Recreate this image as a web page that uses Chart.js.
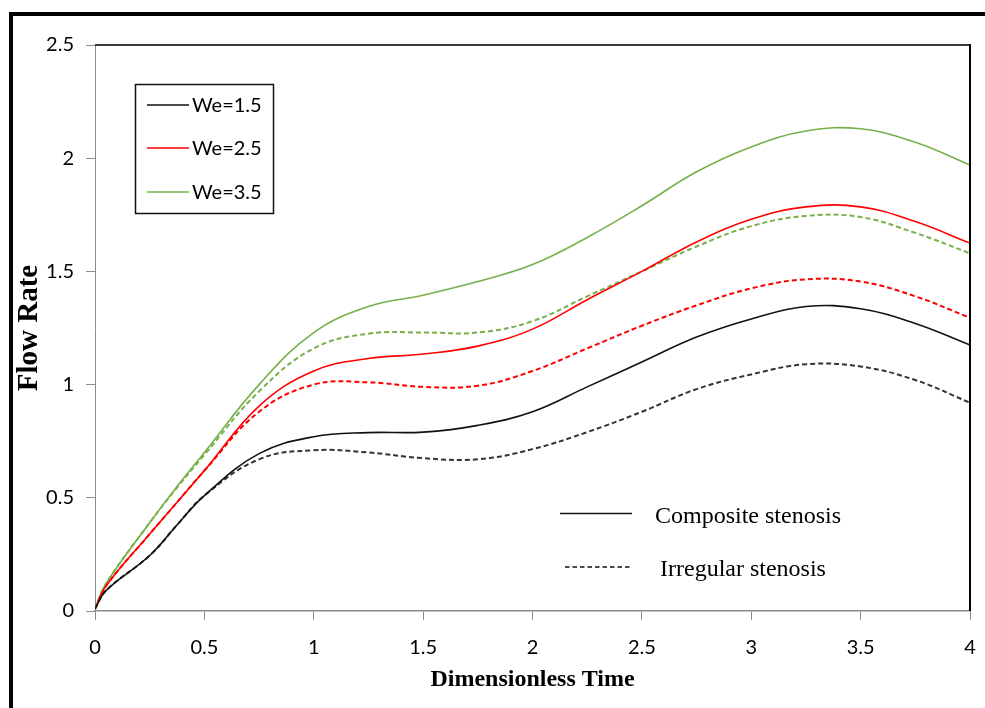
<!DOCTYPE html>
<html>
<head>
<meta charset="utf-8">
<title>Flow Rate vs Dimensionless Time</title>
<script src="https://cdn.jsdelivr.net/npm/chart.js@4.4.1/dist/chart.umd.min.js"></script>
<style>
    body {
        margin: 0;
        background: #ffffff;
    }
    .chart-box {
        width: 985px;
        height: 708px;
        position: relative;
    }
</style>
</head>
<body>
<div class="chart-box"><canvas id="flowRateChart"></canvas></div>
<script>
// values
const times = [0, 0.05, 0.25, 0.375, 0.5, 0.75, 1, 1.25, 1.5, 1.75, 2, 2.25, 2.5, 2.75, 3, 3.25, 3.5, 3.75, 4];

const we15Composite = [0.01, 0.09, 0.245, 0.38, 0.51, 0.695, 0.77, 0.788, 0.79, 0.82, 0.88, 0.99, 1.10, 1.21, 1.29, 1.345, 1.335, 1.27, 1.175];
const we25Composite = [0.01, 0.11, 0.34, 0.48, 0.62, 0.905, 1.06, 1.115, 1.135, 1.17, 1.245, 1.375, 1.50, 1.63, 1.73, 1.785, 1.785, 1.72, 1.625];
const we35Composite = [0.01, 0.12, 0.39, 0.55, 0.70, 1.00, 1.23, 1.345, 1.395, 1.455, 1.53, 1.65, 1.79, 1.94, 2.05, 2.12, 2.13, 2.07, 1.97];

const we15Irregular = [0.01, 0.09, 0.245, 0.38, 0.51, 0.67, 0.71, 0.70, 0.675, 0.67, 0.715, 0.79, 0.88, 0.98, 1.045, 1.09, 1.08, 1.02, 0.92];
const we25Irregular = [0.01, 0.11, 0.34, 0.48, 0.62, 0.88, 1.00, 1.01, 0.99, 0.995, 1.06, 1.16, 1.26, 1.35, 1.425, 1.465, 1.455, 1.39, 1.295];
const we35Irregular = [0.01, 0.12, 0.39, 0.545, 0.69, 0.97, 1.16, 1.225, 1.23, 1.23, 1.28, 1.39, 1.50, 1.61, 1.70, 1.745, 1.74, 1.67, 1.58];

const weLabels = ['We=1.5', 'We=2.5', 'We=3.5'];
const weColors = ['#111111', '#ff0000', '#77b04a'];
const xTicks = [0, 0.5, 1, 1.5, 2, 2.5, 3, 3.5, 4];
const yTicks = [0, 0.5, 1, 1.5, 2, 2.5];

function toPoints(values) {
    return times.map((t, i) => ({ x: t, y: values[i] }));
}

function makeSet(label, values, color, dashed) {
    return {
        label: label,
        data: toPoints(values),
        borderColor: dashed && color === '#111111' ? '#333333' : color,
        backgroundColor: color,
        borderWidth: dashed ? 2 : 1.6,
        borderDash: dashed ? [5, 3] : [],
        pointRadius: 0,
        tension: 0.4,
        fill: false
    };
}

const datasets = [
    makeSet(weLabels[0] + ' composite', we15Composite, weColors[0], false),
    makeSet(weLabels[1] + ' composite', we25Composite, weColors[1], false),
    makeSet(weLabels[2] + ' composite', we35Composite, weColors[2], false),
    makeSet(weLabels[0] + ' irregular', we15Irregular, weColors[0], true),
    makeSet(weLabels[1] + ' irregular', we25Irregular, weColors[1], true),
    makeSet(weLabels[2] + ' irregular', we35Irregular, weColors[2], true)
];

// outer frame, top/right box line of the plot, and both legends
const decorPlugin = {
    id: 'decor',
    afterDraw(chart) {
        const ctx = chart.ctx;
        const area = chart.chartArea;
        ctx.save();

        // thick frame at left and top of the picture
        ctx.fillStyle = '#000';
        ctx.fillRect(9, 12, 4, 708);
        ctx.fillRect(9, 12, 985, 4);

        // plot box top and right
        ctx.lineWidth = 2;
        ctx.strokeStyle = '#3a3a3a';
        ctx.beginPath();
        ctx.moveTo(area.left, area.top);
        ctx.lineTo(area.right, area.top);
        ctx.stroke();
        ctx.strokeStyle = '#000';
        ctx.beginPath();
        ctx.moveTo(area.right, area.top - 1);
        ctx.lineTo(area.right, area.bottom);
        ctx.stroke();

        // We legend box
        ctx.lineWidth = 1.5;
        ctx.strokeStyle = '#111';
        ctx.strokeRect(135.5, 84.5, 138, 129);
        const rowY = [105, 148, 192];
        ctx.font = '20px Lato';
        ctx.textBaseline = 'middle';
        ctx.textAlign = 'left';
        for (let i = 0; i < 3; i++) {
            ctx.strokeStyle = chart.data.datasets[i].borderColor;
            ctx.lineWidth = 1.6;
            ctx.beginPath();
            ctx.moveTo(147, rowY[i]);
            ctx.lineTo(189, rowY[i]);
            ctx.stroke();
            ctx.fillStyle = '#000';
            ctx.fillText(weLabels[i], 192, rowY[i] + 1);
        }

        // stenosis type legend
        ctx.strokeStyle = '#111';
        ctx.lineWidth = 1.6;
        ctx.beginPath();
        ctx.moveTo(560, 513.5);
        ctx.lineTo(632, 513.5);
        ctx.stroke();
        ctx.setLineDash([4.5, 3]);
        ctx.beginPath();
        ctx.moveTo(565, 567);
        ctx.lineTo(632, 567);
        ctx.stroke();
        ctx.setLineDash([]);
        ctx.font = '24px "Liberation Serif"';
        ctx.textBaseline = 'alphabetic';
        ctx.fillStyle = '#000';
        ctx.fillText('Composite stenosis', 655, 523);
        ctx.fillText('Irregular stenosis', 660, 576);

        ctx.restore();
    }
};

const axisGray = '#8c8c8c';

new Chart(document.getElementById('flowRateChart'), {
    type: 'line',
    data: { datasets: datasets },
    options: {
        responsive: true,
        maintainAspectRatio: false,
        animation: false,
        layout: { padding: { top: 45, right: 15, left: 0, bottom: 0 } },
        plugins: {
            legend: { display: false },
            tooltip: { enabled: false }
        },
        scales: {
            x: {
                type: 'linear',
                min: 0,
                max: 4,
                afterBuildTicks: (scale) => { scale.ticks = xTicks.map(v => ({ value: v })); },
                afterFit: (scale) => {
                    scale.height = 97;
                    scale.paddingLeft = 0;
                    scale.paddingRight = 0;
                },
                grid: { drawOnChartArea: false, color: axisGray, tickLength: 9 },
                border: { color: axisGray, width: 1.5 },
                ticks: {
                    color: '#000',
                    font: { family: 'Lato', size: 20 },
                    padding: 16,
                    maxRotation: 0,
                    callback: (value) => String(value)
                },
                title: {
                    display: true,
                    text: 'Dimensionless Time',
                    color: '#000',
                    font: { family: 'Liberation Serif', size: 24, weight: 'bold' },
                    padding: { top: 0, bottom: 14 }
                }
            },
            y: {
                type: 'linear',
                min: 0,
                max: 2.5,
                afterBuildTicks: (scale) => { scale.ticks = yTicks.map(v => ({ value: v })); },
                afterFit: (scale) => { scale.width = 95; },
                grid: { drawOnChartArea: false, color: axisGray, tickLength: 9 },
                border: { color: axisGray, width: 1 },
                ticks: {
                    color: '#000',
                    font: { family: 'Lato', size: 20 },
                    padding: 12,
                    callback: (value) => String(value)
                },
                title: {
                    display: true,
                    text: 'Flow Rate',
                    color: '#000',
                    font: { family: 'Liberation Serif', size: 29, weight: 'bold' },
                    padding: { top: 12, bottom: 0 }
                }
            }
        }
    },
    plugins: [decorPlugin]
});
</script>
</body>
</html>
